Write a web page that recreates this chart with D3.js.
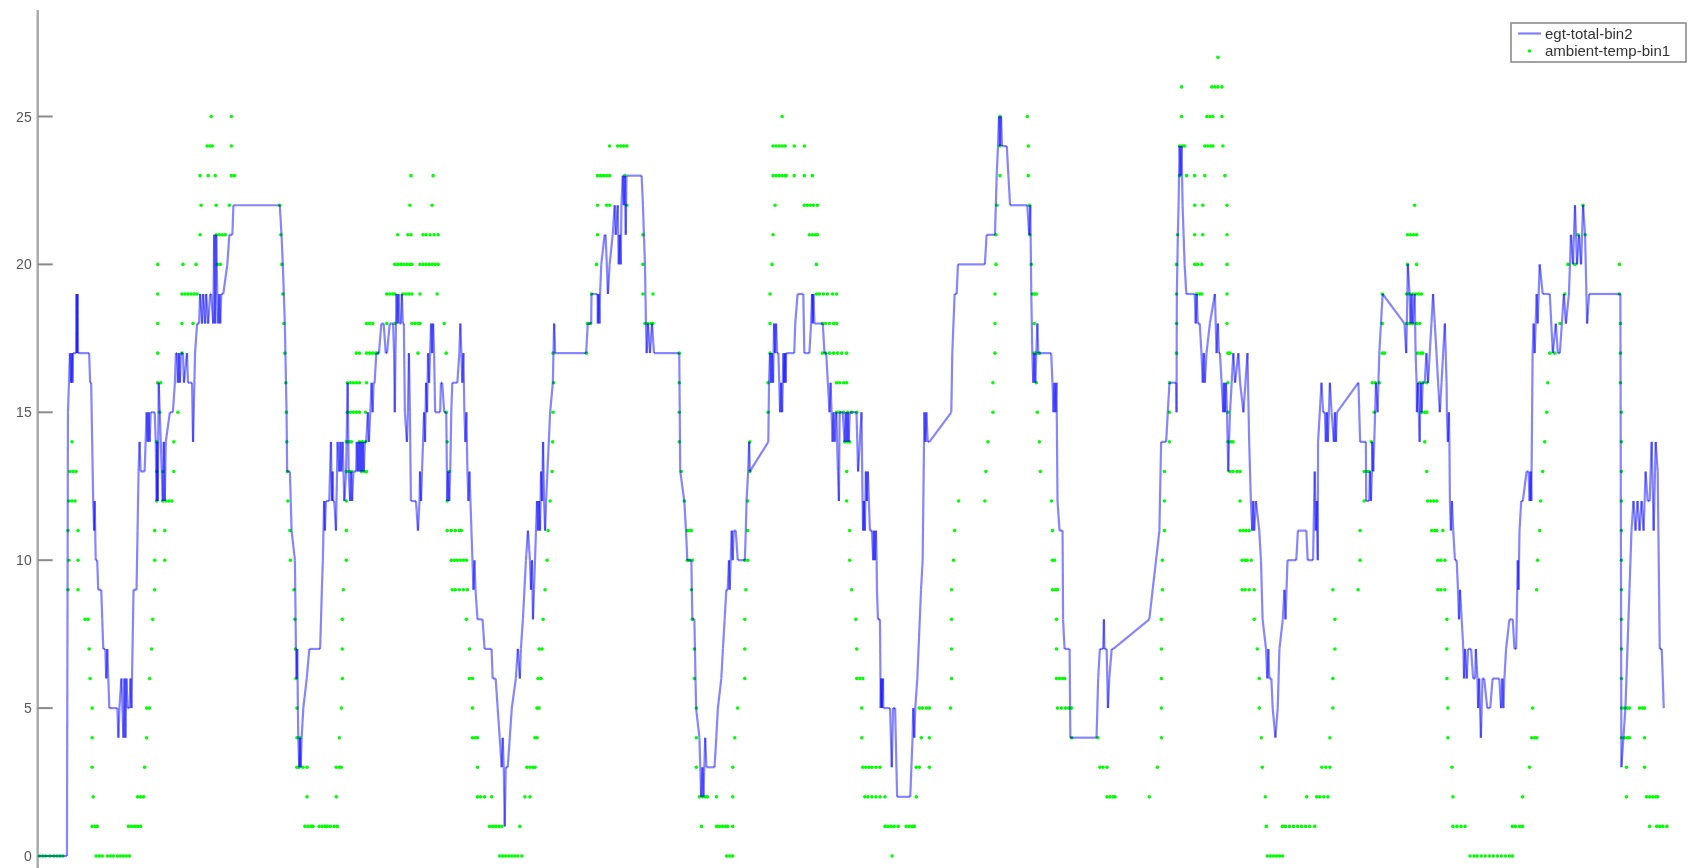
<!DOCTYPE html>
<html>
<head>
<meta charset="utf-8">
<script src="https://cdn.jsdelivr.net/npm/d3@7"></script>
<style>
  html, body { margin: 0; padding: 0; background: #fff; }
  svg { display: block; }
  text { font-family: "Liberation Sans", Arial, sans-serif; }
</style>
</head>
<body>
<svg id="chart" width="1691" height="868"></svg>
<script>
// ---- data -------------------------------------------------------------
const yTicks = [0, 5, 10, 15, 20, 25];
const xTicks = d3.range(0, 1601, 16);          // unlabelled sample ticks
const markerX = 196;                           // dash-dot reference marker
const seriesNames = ["egt-total-bin2", "ambient-temp-bin1"];

// egt-total-bin2 : [sample, bin]
const egtTotalBin2 = [
[0,0],[29,0],[30,15],[32,17],[33,16],[34,17],[34.5,16],[35,17],[38,17],[38.5,19],[39,17],[39.5,19],[40,17],[51,17],[52,16],[53,16],[55,12],[56,11],[56.5,12],[57,11],[57.5,10],[59,10],[60,9],[63,9],[64,8],[65,7],[67,7],[68,6],[69,7],[70,6],[71,5],[79,5],[80,4],[81,5],[83,6],[84,5],[85,4],[86,6],[87,4],[88,6],[89,5],[91,5],[92,6],[93,5],[94,7],[95,9],[98,9],[99,11],[100,13],[101,14],[102,13],[106,13],[107,14],[108,15],[109,14],[110,15],[111,14],[112,15],[116,15],[117,14],[118,12],[118.5,14],[119,12],[119.5,14],[120,16],[121,15],[123,13],[124,12],[125,14],[126,12],[127,14],[131,15],[134,15],[136,16],[137,17],[138,17],[139,16],[140,17],[141,16],[142,17],[144,17],[145,16],[148,17],[149,16],[153,16],[154,14],[156,17],[158,18],[160,18],[161,19],[163,18],[164,19],[166,18],[167,19],[169,18],[171,19],[172,19],[174,18],[175,21],[176,18],[177,21],[178,19],[179,18],[180,19],[181,18],[182,19],[184,19],[188,20],[190,21],[193,21],[194,22],
[240,22],[241.7,21],[243,20],[245,18],[246.7,15],[247.3,13],[250,13],[251.7,11],[255,10],[256,7],[256.7,6],[257.3,7],[258.3,4],[259.3,3],[260,4],[260.7,3],[261.7,4],[263.3,5],[266.7,6],[269.3,7],[280,7],[281.7,9],[282.7,10],[283.3,11],[284,12],[284.7,11],[285.7,12],[289,12],[290.7,14],[291.7,12],[292.3,13],[293,12],[294,12],[295.7,11],[297.3,14],[299,13],[300,14],[301,13],[302.3,14],[304,12],[305.7,13],[307.3,16],[308.3,13],[309.7,12],[310.7,13],[311.7,12],[313,13],[315.7,13],[316.3,14],[317.3,13],[318.3,14],[319.3,13],[320.3,14],[321.3,13],[322.3,14],[323.3,13],[324.3,14],[325.7,14],[327.3,15],[328.3,14],[329.7,15],[331,16],[332,15],[333,16],[334,16],[335.7,17],[338.3,17],[340.7,18],[343,18],[345,17],[346.3,17],[349,18],[352.3,18],[353.3,17],[354,15],[354.7,17],[355.7,19],[356.7,18],[357.7,19],[358.7,18],[360,18],[361,19],[362,18],[363,18],[364,15],[366,14],[367,15],[368,17],[369,15],[370,12],[375,12],[377,11],[378.5,12],[379,13],[380,12],[381,13],[382,14],[383,15],[384,14],[385,16],[386,15],[387,17],[388,16],[389,17],[390,18],[391,17],[392,18],[393,17],[394,15],[399,15],[399.7,16],[401,16],[403,15],[405,15],[406,12],[407,13],[408,12],[409,13],[410,15],[411,16],[416,16],[418,17],[419,18],[420,17],[421,16],[422,17],[423,15],[424,14],[425,15],[426,13],[427,12],[428,13],[429,12],[431,10],[432,9],[433,10],[434,9],[436,8],[441,8],[443,7],[450,7],[451,6],[454,6],[456,5],[458,4],[460,3],[461,4],[462,3],[463,1],[464,3],[466,3],[468,4],[470,5],[474,6],[476,7],[478,6],[479,7],[481,8],[484,10],[486,11],[488,10],[489,9],[490,10],[491,8],[492,9],[493,10],[495,12],[496,11],[497,12],[498,11],[499,13],[500,12],[501,14],[502,12],[503,11],[504,12],[508,15],[510.7,16],[511.3,17],[512,18],[513,17],
[543.7,17],[545.3,18],[548.7,18],[549,19],[552,19],[555,19],[555.3,18],[556,19],[557,18],[557.5,19],[558.7,20],[562,21],[563,21],[565.3,19],[567,20],[570,21],[572,22],[573,21],[575,22],[576,20],[577,21],[578,20],[578.7,22],[580,23],[581,22],[582,23],[583,21],[583.7,23],[598.7,23],[600,22],[601,21],[602,20],[603,18],[603.7,17],[605,18],[607,17],[609,18],[611,17],[613,17],[636,17],[637,13],[641,12],[642.7,11],[644,10],[648,10],[649,8],[651,8],[652.7,5],[656,4],[657.7,2],[659,3],[660,2],[661.7,4],[663,3],[671,3],[672.7,4],[674.3,5],[677.7,6],[679.3,7],[681,8],[682.7,9],[684,9],[685.3,10],[686,9],[688,11],[689,10],[690,11],[692,11],[694,10],[701,10],[702,11],[702.7,12],[704.3,13],[705.3,14],[706,13],[724.3,14],[725,16],[726,17],[727,16],[728,17],[729,16],[730,18],[731,17],[732,18],[733,17],[734.3,17],[736,15],[737,16],[738,15],[739.3,17],[740,16],[741,17],[741.5,16],[742,17],[750,17],[751,18],[753.3,19],[758,19],[759,19],[760,17],[765,17],[766.7,18],[767.7,19],[768.3,18],[769,19],[770,18],[778.3,18],[780,17],[781.7,17],[783.3,16],[785,15],[786,16],[787,15],[788,14],[789,15],[790,14],[791.7,15],[793.3,13],[794.3,12],[795,15],[798,15],[800,14],[801,15],[802,14],[803,15],[804,14],[805,15],[811.7,15],[813.3,13],[816.7,15],[817.7,12],[818.3,11],[819,12],[820,11],[821,13],[822,12],[823,13],[824,12],[825,11],[827,11],[828.3,10],[829,11],[830,10],[831,11],[831.7,10],[832,9],[833,8],[835,8],[835.7,5],[836.3,6],[837,5],[838,6],[838.3,5],[845,5],[846.7,3],[848,5],[850,5],[852,2],[865,2],[867.3,4],[868,5],[869,4],[870,5],[872,6],[875.7,9],[877.3,10],[879,15],[880,14],[881,15],[882.3,14],[884,14],[905.7,15],[906.7,17],[909,19],[911,19],[912.3,20],[939,20],[940.7,21],[949,21],[950.7,23],[952,24],[953,25],[954,24],[955,25],[956,24],[960.7,24],[962.3,23],[964,22],[981,22],[983,21],[984,22],[985,19],[986,17],[987,16],[988,17],[989,16],[990,17],[991,18],[992,17],[1004.7,17],[1006,16],[1007,15],[1008,16],[1009,15],[1010,16],[1011,12],[1013,11],[1016,11],[1016.5,8],[1018,7],[1023,7],[1023.7,4],[1049.7,4],[1051.3,6],[1053,7],[1056.3,7],[1057,8],[1057.5,7],[1059.7,7],[1061,5],[1062.3,6],[1064.7,7],[1066.3,7],[1102,8],[1105.3,9],[1108.7,10],[1112,11],[1113.7,14],[1118.7,14],[1120.3,15],[1122,16],[1128.7,16],[1129,15],[1129.3,19],[1130.3,21],[1131,22],[1132,24],[1133,23],[1134,24],[1135,22],[1136,21],[1137,20],[1138.7,19],[1147,19],[1148,18],[1149,19],[1150,18],[1152,18],[1153.7,17],[1155,16],[1156,17],[1157,16],[1158.7,17],[1162,18],[1167,19],[1168.7,17],[1170,18],[1171,17],[1172,17],[1173.7,16],[1175.3,15],[1176,16],[1177,15],[1178,16],[1179,15],[1180.3,13],[1181,14],[1182,15],[1185.3,17],[1187,16],[1190.3,17],[1192,16],[1195.3,15],[1199.3,17],[1201,14],[1202.7,12],[1204,11],[1205,12],[1206,11],[1207.7,12],[1211,11],[1212.7,10],[1214.3,8],[1217.7,7],[1219,6],[1220,7],[1221,6],[1223,6],[1224.3,5],[1227,4],[1229.3,5],[1231,7],[1234.3,8],[1236,9],[1237,8],[1238,9],[1239,10],[1247.7,10],[1249.3,11],[1257.7,11],[1259,10],[1264.3,10],[1266,13],[1267,11],[1268,12],[1269,10],[1269.3,14],[1271,15],[1272.7,16],[1274.3,15],[1276,15],[1277,14],[1278,15],[1279,14],[1281,16],[1282.7,15],[1285,14],[1286,15],[1287,14],[1288,15],[1309.3,16],[1311,14],[1316.7,14],[1317,12],[1320,12],[1320.7,13],[1321.7,12],[1322.7,13],[1323,14],[1324,13],[1325,14],[1326.7,16],[1328.3,15],[1330,17],[1333.3,19],[1355,18],[1356.7,17],[1357.3,18],[1358.3,20],[1360,19],[1361,18],[1362,19],[1363,18],[1365,19],[1366,17],[1367,16],[1367.3,15],[1368.3,16],[1370,14],[1371,16],[1372,15],[1373,16],[1375,16],[1376.7,17],[1378.3,16],[1380,17],[1381.7,18],[1383.3,19],[1385,18],[1386.7,17],[1388.3,16],[1390,15],[1391.7,16],[1393.3,17],[1395,18],[1396.7,16],[1397,15],[1398,14],[1399,15],[1399.5,14],[1400,12],[1401,11],[1402,12],[1403.3,11],[1405,10],[1406.7,10],[1408,9],[1409,8],[1410,9],[1411.7,8],[1413.3,7],[1414,6],[1415,7],[1416.7,6],[1418,7],[1421,7],[1423,6],[1425,6],[1425.7,7],[1427.3,6],[1428,5],[1429,6],[1430.7,4],[1432.3,6],[1434,6],[1437,5],[1440,5],[1442.3,6],[1449,6],[1450.7,5],[1452,6],[1453,5],[1454,6],[1455.7,7],[1459,8],[1462.3,8],[1464,7],[1465.7,7],[1467.3,10],[1468,9],[1469,11],[1470.7,12],[1472.3,12],[1476,13],[1478,13],[1479,12],[1480,13],[1480.7,12],[1482,17],[1483,18],[1484,17],[1485,18],[1486,19],[1487,18],[1489,20],
[1492,19],[1499,19],[1502,17],[1505,18],[1507,17],[1509,17],[1513,19],[1515,18],[1518,19],[1520,21],[1522,20],[1524,22],[1526,20],[1528,21],[1530,20],[1532,22],[1534,21],[1536,18],[1538,19],[1569,19],[1570,3],[1572,4],[1574,5],[1576,7],[1578,9],[1580,11],[1582,12],[1584,11],[1586,12],[1588,11],[1590,12],[1592,11],[1594,13],[1596,12],[1598,12],[1600,14],[1602,11],[1604,14],[1606,13],[1608,7],[1610,7],[1612,5]
];

// ambient-temp-bin1 : [sample, bin]
const ambientTempBin1 = [
[2,0],[5,0],[8,0],[12,0],[16,0],[19,0],[22,0],[25,0],
[58,0],[61,0],[64,0],[69,0],[72,0],[75,0],[79,0],[82,0],[85,0],[88,0],[91,0],
[54,1],[57,1],[59,1],[90,1],[93,1],[96,1],[99,1],[102,1],
[55,2],[99,2],[102,2],[105,2],[54,3],[106,3],[54,4],[108,4],[54,5],[108,5],[111,5],
[52,6],[111,6],[51,7],[113,7],[47,8],[50,8],[114,8],
[30,9],[40,9],[116,9],[31,10],[40,10],[116,10],[126,10],[30,11],[40,11],[116,11],[126,11],
[31,12],[34,12],[37,12],[118,12],[124,12],[127,12],[130,12],[133,12],
[32,13],[35,13],[38,13],[118,13],[124,13],[135,13],[34,14],[118,14],[135,14],
[121,15],[139,15],[119,16],[122,16],[119,17],[143,17],[119,18],[143,18],[154,18],
[119,19],[143,19],[146,19],[149,19],[152,19],[155,19],[158,19],
[119,20],[144,20],[157,20],[178,20],[181,20],
[161,21],[177,21],[180,21],[183,21],[186,21],[162,22],[177,22],[190,22],
[161,23],[169,23],[176,23],[192,23],[195,23],[168,24],[171,24],[173,24],[192,24],[172,25],[192,25],
[240,22],[241,21],[242,20],[243,19],[244,18],[245,17],[246,16],[246.5,15],[247,14],[247.5,13],[248,12],[250,11],[250.5,10],[254,9],[255,8],[255.5,7],[256,6],[257,5],[257,4],[260,4],[257,3],[259,3],[263,3],[267,3],
[267,2],[296,2],[265,1],[268,1],[271,1],[273,1],[279,1],[282,1],[285,1],[287,1],[290,1],[294,1],[297,1],
[296,3],[299,3],[301,3],[299,4],[301,5],[302,6],[302,7],[302,8],[303,9],[306,10],[306,11],[306,12],
[306,13],[309,13],[311,13],[321,13],[324,13],[326,13],[306,14],[309,14],[311,14],[319,14],[322,14],[325,14],
[307,15],[310,15],[313,15],[316,15],[319,15],[325,15],[307,16],[310,16],[313,16],[316,16],[319,16],[326,16],
[316,17],[319,17],[326,17],[329,17],[332,17],[335,17],[337,17],[377,17],[405,17],
[326,18],[329,18],[332,18],[346,18],[354,18],[371,18],[374,18],[377,18],[379,18],[403,18],
[346,19],[349,19],[352,19],[354,19],[362,19],[365,19],[368,19],[371,19],[379,19],[396,19],
[354,20],[357,20],[360,20],[363,20],[366,20],[369,20],[371,20],[379,20],[382,20],[385,20],[388,20],[391,20],[394,20],[397,20],
[357,21],[367,21],[370,21],[382,21],[385,21],[389,21],[393,21],[397,21],[369,22],[391,22],[370,23],[392,23],
[405,15],[406,14],[408,13],[406,12],[406,11],[410,11],[414,11],[418,11],[420,11],
[410,10],[413,10],[416,10],[419,10],[422,10],[425,10],[411,9],[414,9],[418,9],[422,9],[426,9],
[425,8],[428,7],[428,6],[431,6],[431,5],[431,4],[434,4],[436,4],[436,3],[436,2],[439,2],[443,2],[450,2],
[448,1],[451,1],[454,1],[457,1],[460,1],[478,1],
[458,0],[461,0],[464,0],[467,0],[470,0],[473,0],[476,0],[480,0],
[483,2],[488,2],[485,3],[488,3],[491,3],[493,3],[493,4],[495,4],[495,5],[497,5],[496,6],[499,6],[497,7],[500,7],
[501,8],[503,9],[505,10],[506,11],[508,12],[510,13],[510.5,14],[511,15],[511.5,16],[511,17],
[544,17],[545,18],[548,18],[549,19],[554,20],[555,21],[555,22],[564,22],[567,22],
[555,23],[558,23],[561,23],[564,23],[567,23],[582,23],[567,24],[575,24],[578,24],[581,24],[584,24],[584,22],
[600,21],[600,20],[600,19],[610,19],[602,18],[605,18],[608,18],[610,18],
[636,17],[636,16],[636,15],[636,14],[638,13],[641,12],[644,11],[646,11],[648,11],[644,10],[646,10],[649,10],
[648,9],[649,8],[651,7],[651,6],[653,5],[653,4],[691,4],[653,3],[689,3],
[656,2],[659,2],[662,2],[664,2],[673,2],[689,2],[658,1],[673,1],[676,1],[679,1],[682,1],[684,1],[689,1],
[683,0],[686,0],[689,0],
[694,5],[701,6],[701,7],[701,8],[702,9],[701,10],[704,10],[704,11],[704,12],[706,13],[706,14],
[724,15],[724,16],[726,17],[726,18],[726,19],[728,20],[729,21],[731,22],
[729,23],[732,23],[735,23],[738,23],[741,23],[742,23],[750,23],[760,23],[768,23],
[729,24],[732,24],[735,24],[738,24],[741,24],[750,24],[760,24],[738,25],
[760,22],[763,22],[766,22],[769,22],[773,22],[765,21],[768,21],[771,21],[773,21],[772,20],
[772,19],[775,19],[779,19],[783,19],[788,19],[792,19],[778,18],[781,18],[785,18],[789,18],[792,18],
[778,17],[781,17],[785,17],[789,17],[793,17],[797,17],[802,17],[792,16],[795,16],[799,16],[802,16],
[792,15],[795,15],[799,15],[803,15],[807,15],[812,15],[800,14],[803,14],[805,14],
[802,13],[802,12],[805,11],[805,10],[807,9],[811,8],[812,7],[812,6],[815,6],[818,6],[817,5],[817,4],
[818,3],[821,3],[824,3],[827,3],[831,3],[835,3],[820,2],[823,2],[827,2],[831,2],[835,2],[840,2],
[840,1],[843,1],[846,1],[849,1],[853,1],[861,1],[864,1],[867,1],[869,1],[847,0],
[871,2],[871,3],[874,3],[884,3],[876,4],[884,4],[874,5],[877,5],[881,5],[884,5],[905,5],
[906,6],[906,7],[906,8],[906,9],[908,10],[909,11],[913,12],[939,12],[940,13],[942,14],[947,15],[947,16],
[949,17],[949,18],[949,19],[950,20],[950,21],[951,22],[954,23],[954,24],[954,25],
[981,25],[982,24],[982,23],[983,22],[983.5,21],[985,20],[986,19],[988,19],[990,19],[988,18],
[988,17],[990,17],[993,17],[990,16],[991,15],[993,14],[994,13],[1005,12],[1006,11],[1006,10],[1008,10],
[1006,9],[1009,9],[1011,9],[1010,8],[1010,7],[1010,6],[1013,6],[1016,6],[1018,6],
[1011,5],[1015,5],[1019,5],[1022,5],[1025,5],[1025,4],[1051,4],[1053,3],[1056,3],[1060,3],
[1060,2],[1063,2],[1066,2],[1068,2],[1102,2],[1110,3],[1114,4],[1114,5],[1114,6],[1114,7],[1114,8],
[1115,9],[1115,10],[1117,11],[1117,12],[1117,13],[1122,14],[1122,15],[1122,16],
[1129,17],[1129,18],[1129,19],[1129,20],[1130,21],
[1132,23],[1139,23],[1147,23],[1157,23],[1177,23],[1132,24],[1135,24],[1137,24],[1157,24],[1160,24],[1163,24],[1165,24],[1175,24],
[1134,25],[1159,25],[1162,25],[1165,25],[1174,25],[1134,26],[1164,26],[1167,26],[1170,26],[1174,26],[1170,27],
[1147,22],[1155,22],[1179,22],[1147,21],[1155,21],[1179,21],[1147,20],[1150,20],[1154,20],[1179,20],
[1149,19],[1152,19],[1154,19],[1179,19],[1179,18],[1180,17],[1182,17],[1180,16],[1180,15],[1180,14],[1183,14],[1185,14],
[1182,13],[1185,13],[1189,13],[1192,13],[1192,12],[1192,11],[1195,11],[1198,11],[1201,11],
[1194,10],[1197,10],[1199,10],[1203,10],[1194,9],[1197,9],[1201,9],[1206,9],[1206,8],[1209,7],[1211,6],[1211,5],
[1213,4],[1214,3],[1217,2],[1218,1],[1219,0],[1222,0],[1225,0],[1228,0],[1231,0],[1234,0],
[1234,1],[1237,1],[1241,1],[1245,1],[1249,1],[1253,1],[1257,1],[1261,1],[1266,1],
[1258,2],[1268,2],[1271,2],[1275,2],[1279,2],[1273,3],[1277,3],[1281,3],[1281,4],[1284,5],[1284,6],[1286,7],[1286,8],
[1284,9],[1309,9],[1311,10],[1311,11],[1315,12],[1315,13],[1318,13],[1320,13],[1322,14],[1325,15],[1323,16],[1326,16],[1330,16],
[1333,17],[1335,17],[1333,18],[1333,19],
[1357,19],[1360,19],[1363,19],[1366,19],[1369,19],[1372,19],[1357,18],[1360,18],[1363,18],[1367,18],[1370,18],
[1358,20],[1367,20],[1358,21],[1361,21],[1364,21],[1367,21],[1365,22],
[1368,17],[1371,17],[1373,17],[1370,16],[1373,16],[1377,16],[1372,15],[1375,15],[1377,15],[1375,14],[1377,13],
[1378,12],[1381,12],[1384,12],[1387,12],[1382,11],[1385,11],[1387,11],[1393,11],
[1388,10],[1391,10],[1395,10],[1388,9],[1391,9],[1395,9],[1397,8],[1397,7],[1397,6],[1398,5],[1398,4],[1402,3],[1403,2],
[1403,1],[1407,1],[1411,1],[1415,1],
[1420,0],[1424,0],[1427,0],[1431,0],[1435,0],[1439,0],[1443,0],[1447,0],[1451,0],[1455,0],[1459,0],[1462,0],
[1462,1],[1465,1],[1469,1],[1472,1],[1472,2],[1479,3],[1481,4],[1484,4],[1486,4],[1482,5],[1486,9],[1487,10],
[1489,11],[1490,12],[1492,13],[1494,14],[1496,15],[1497,16],[1499,17],[1504,17],[1509,18],[1514,19],
[1517,20],[1524,20],[1527,21],[1534,21],[1532,22],
[1568,20],[1568,19],[1569,18],[1569,17],[1569,16],[1570,15],[1570,14],[1570,13],[1570,12],[1570,11],[1570,10],[1570,9],[1570,8],[1570,7],[1570,6],
[1570,5],[1573,5],[1576,5],[1578,5],[1588,5],[1591,5],[1593,5],[1570,4],[1573,4],[1576,4],[1578,4],[1593,4],
[1575,3],[1593,3],[1575,2],[1595,2],[1598,2],[1601,2],[1604,2],[1606,2],
[1598,1],[1605,1],[1608,1],[1611,1],[1615,1]
];

// ---- scales & layout -----------------------------------------------------
const W = 1691, H = 868;
const x = d3.scaleLinear().domain([0, 1639]).range([37.7, 1691]);
const y = d3.scaleLinear().domain([0, 28.6]).range([856, 10]);

const svg = d3.select("#chart");

const defs = svg.append("defs");
defs.append("filter").attr("id", "soft")
  .attr("x", "-5%").attr("y", "-5%").attr("width", "110%").attr("height", "110%")
  .append("feGaussianBlur").attr("stdDeviation", 0.5);
defs.append("filter").attr("id", "softer")
  .append("feGaussianBlur").attr("stdDeviation", 0.45);

svg.append("rect").attr("width", W).attr("height", H).attr("fill", "#fff");

// x ticks (inward from an axis just below the frame)
svg.append("g")
  .selectAll("line").data(xTicks).join("line")
  .attr("x1", d => x(d)).attr("x2", d => x(d))
  .attr("y1", y(0)).attr("y2", y(0) + 16)
  .attr("stroke", "#9a9a9a").attr("stroke-width", 2)
  .attr("filter", "url(#softer)");

// y axis
const yAxis = svg.append("g").attr("filter", "url(#softer)");
yAxis.append("line")
  .attr("x1", x(0)).attr("x2", x(0))
  .attr("y1", y(28.6)).attr("y2", H)
  .attr("stroke", "#a8a8a8").attr("stroke-width", 2.4);
yAxis.selectAll("line.tick").data(yTicks).join("line")
  .attr("class", "tick")
  .attr("x1", x(0)).attr("x2", x(0) + 15)
  .attr("y1", d => y(d)).attr("y2", d => y(d))
  .attr("stroke", "#8a8a8a").attr("stroke-width", 2);
yAxis.selectAll("text").data(yTicks).join("text")
  .attr("x", x(0) - 6).attr("y", d => y(d))
  .attr("dy", "0.36em").attr("text-anchor", "end")
  .attr("font-size", 14).attr("fill", "#555")
  .text(d => d);

// ambient temperature dots
svg.append("g").attr("filter", "url(#softer)")
  .selectAll("circle").data(ambientTempBin1).join("circle")
  .attr("cx", d => x(d[0])).attr("cy", d => y(d[1]))
  .attr("r", 1.8).attr("fill", "#00ff00");

// egt total line: drawn segment by segment so that overlapping
// back-and-forth steps build up into a deeper blue
svg.append("g").attr("filter", "url(#soft)")
  .selectAll("line").data(d3.pairs(egtTotalBin2)).join("line")
  .attr("x1", d => x(d[0][0])).attr("y1", d => y(d[0][1]))
  .attr("x2", d => x(d[1][0])).attr("y2", d => y(d[1][1]))
  .attr("stroke", "#0000ff")
  .attr("stroke-opacity", 0.48)
  .attr("stroke-width", 2.2)
  .attr("stroke-linecap", "butt");

// dash-dot marker
svg.append("line")
  .attr("x1", x(markerX)).attr("x2", x(markerX))
  .attr("y1", y(28.6)).attr("y2", y(0))
  .attr("stroke", "#ff4a4a").attr("stroke-opacity", 0.75)
  .attr("stroke-width", 1.8)
  .attr("stroke-dasharray", "7,3,2,3")
  .attr("filter", "url(#softer)");

// legend
const lg = svg.append("g").attr("filter", "url(#softer)");
lg.append("rect")
  .attr("x", 1511).attr("y", 23).attr("width", 175).attr("height", 39)
  .attr("fill", "#fff").attr("stroke", "#8c8c8c").attr("stroke-width", 1.6);
lg.append("line")
  .attr("x1", 1518).attr("x2", 1541).attr("y1", 33.5).attr("y2", 33.5)
  .attr("stroke", "#8080ff").attr("stroke-width", 2.2);
lg.append("circle").attr("cx", 1529.5).attr("cy", 51).attr("r", 1.8).attr("fill", "#00ff00");
lg.selectAll("text").data(seriesNames).join("text")
  .attr("x", 1545).attr("y", (d, i) => 33.5 + i * 17.5)
  .attr("dy", "0.35em")
  .attr("font-size", 15).attr("fill", "#333")
  .text(d => d);
</script>
</body>
</html>
